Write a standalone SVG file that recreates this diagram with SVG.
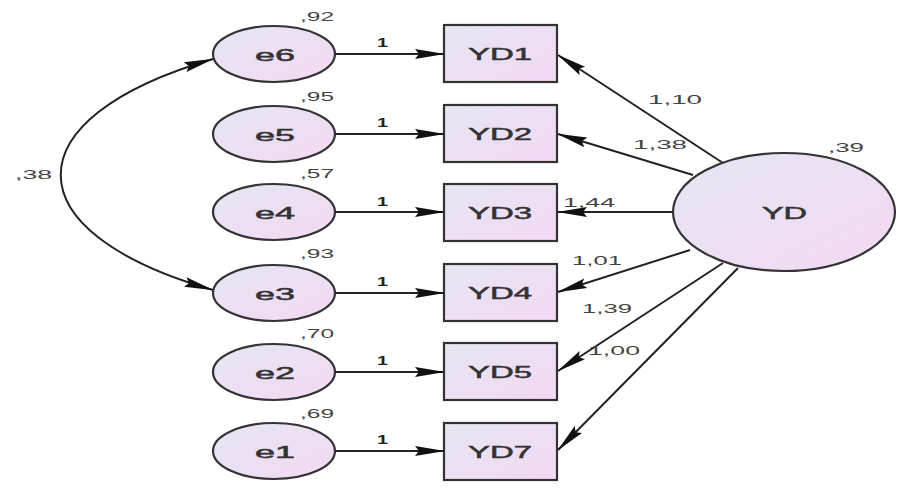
<svg xmlns="http://www.w3.org/2000/svg" width="908" height="496" viewBox="0 0 908 496">
<style>
.nd{stroke:#333;stroke-width:2.2;fill:url(#g)}
.t{font-family:"Liberation Sans",Arial,sans-serif;fill:#333}
.n{font-size:17px;stroke:#333;stroke-width:0.5}
.l{font-size:13px;fill:#444}
.o{font-size:13px;fill:#222;font-weight:bold}
.c{stroke:#222;stroke-width:2;fill:none;marker-end:url(#ah)}
</style>
<defs>
<linearGradient id="g" x1="0" y1="0" x2="1" y2="1">
<stop offset="0" stop-color="#e6e6f2"/>
<stop offset="1" stop-color="#f3d8f3"/>
</linearGradient>
<marker id="ah" markerUnits="userSpaceOnUse" markerWidth="30" markerHeight="12" refX="29" refY="5" orient="auto-start-reverse" viewBox="0 0 30 10">
<path d="M0,0 L30,5 L0,10 L4,5 z" fill="#111"/>
</marker>
</defs>
<g id="connectors">
<path class="c" d="M213,59 C10,118 10,232 213,290" marker-start="url(#ah)"/>
<line class="c" x1="335" y1="54" x2="444" y2="54"/>
<line class="c" x1="335" y1="134" x2="444" y2="134"/>
<line class="c" x1="335" y1="212" x2="444" y2="212"/>
<line class="c" x1="335" y1="293" x2="444" y2="293"/>
<line class="c" x1="335" y1="372" x2="444" y2="372"/>
<line class="c" x1="335" y1="451" x2="444" y2="451"/>
<line class="c" x1="723" y1="163" x2="558" y2="55"/>
<line class="c" x1="693" y1="175" x2="558" y2="134"/>
<line class="c" x1="673" y1="212" x2="558" y2="212"/>
<line class="c" x1="690" y1="250" x2="558" y2="292"/>
<line class="c" x1="723" y1="263" x2="558" y2="371"/>
<line class="c" x1="738" y1="268" x2="558" y2="450"/>
</g>
<g id="e6"><ellipse class="nd" cx="274" cy="54" rx="61" ry="28"/><text class="t n" x="255" y="61" textLength="40" lengthAdjust="spacingAndGlyphs">e6</text></g>
<g id="e5"><ellipse class="nd" cx="274" cy="134" rx="61" ry="28"/><text class="t n" x="255" y="141" textLength="40" lengthAdjust="spacingAndGlyphs">e5</text></g>
<g id="e4"><ellipse class="nd" cx="274" cy="212" rx="61" ry="28"/><text class="t n" x="255" y="219" textLength="40" lengthAdjust="spacingAndGlyphs">e4</text></g>
<g id="e3"><ellipse class="nd" cx="274" cy="293" rx="61" ry="28"/><text class="t n" x="255" y="300" textLength="40" lengthAdjust="spacingAndGlyphs">e3</text></g>
<g id="e2"><ellipse class="nd" cx="274" cy="372" rx="61" ry="28"/><text class="t n" x="255" y="379" textLength="40" lengthAdjust="spacingAndGlyphs">e2</text></g>
<g id="e1"><ellipse class="nd" cx="274" cy="451" rx="61" ry="28"/><text class="t n" x="255" y="458" textLength="40" lengthAdjust="spacingAndGlyphs">e1</text></g>
<g id="YD1"><rect class="nd" x="444" y="25" width="113" height="57"/><text class="t n" x="468" y="60" textLength="64" lengthAdjust="spacingAndGlyphs">YD1</text></g>
<g id="YD2"><rect class="nd" x="444" y="105" width="113" height="57"/><text class="t n" x="468" y="140" textLength="64" lengthAdjust="spacingAndGlyphs">YD2</text></g>
<g id="YD3"><rect class="nd" x="444" y="184" width="113" height="57"/><text class="t n" x="468" y="219" textLength="64" lengthAdjust="spacingAndGlyphs">YD3</text></g>
<g id="YD4"><rect class="nd" x="444" y="264" width="113" height="57"/><text class="t n" x="468" y="299" textLength="64" lengthAdjust="spacingAndGlyphs">YD4</text></g>
<g id="YD5"><rect class="nd" x="444" y="343" width="113" height="57"/><text class="t n" x="468" y="378" textLength="64" lengthAdjust="spacingAndGlyphs">YD5</text></g>
<g id="YD7"><rect class="nd" x="444" y="423" width="113" height="57"/><text class="t n" x="468" y="458" textLength="64" lengthAdjust="spacingAndGlyphs">YD7</text></g>
<g id="YD"><ellipse class="nd" cx="784" cy="212" rx="111" ry="59"/><text class="t n" x="762" y="219" textLength="45" lengthAdjust="spacingAndGlyphs">YD</text></g>
<g id="labels">
<text class="t l" x="300" y="21" textLength="34" lengthAdjust="spacingAndGlyphs">,92</text>
<text class="t l" x="300" y="101" textLength="34" lengthAdjust="spacingAndGlyphs">,95</text>
<text class="t l" x="300" y="178" textLength="34" lengthAdjust="spacingAndGlyphs">,57</text>
<text class="t l" x="300" y="258" textLength="34" lengthAdjust="spacingAndGlyphs">,93</text>
<text class="t l" x="300" y="338" textLength="34" lengthAdjust="spacingAndGlyphs">,70</text>
<text class="t l" x="300" y="418" textLength="34" lengthAdjust="spacingAndGlyphs">,69</text>
<text class="t l" x="15" y="179" textLength="37" lengthAdjust="spacingAndGlyphs">,38</text>
<text class="t o" x="377" y="47" textLength="11" lengthAdjust="spacingAndGlyphs">1</text>
<text class="t o" x="377" y="127" textLength="11" lengthAdjust="spacingAndGlyphs">1</text>
<text class="t o" x="377" y="206" textLength="11" lengthAdjust="spacingAndGlyphs">1</text>
<text class="t o" x="377" y="286" textLength="11" lengthAdjust="spacingAndGlyphs">1</text>
<text class="t o" x="377" y="365" textLength="11" lengthAdjust="spacingAndGlyphs">1</text>
<text class="t o" x="377" y="444" textLength="11" lengthAdjust="spacingAndGlyphs">1</text>
<text class="t l" x="648" y="104" textLength="54" lengthAdjust="spacingAndGlyphs">1,10</text>
<text class="t l" x="633" y="149" textLength="54" lengthAdjust="spacingAndGlyphs">1,38</text>
<text class="t l" x="563" y="207" textLength="52" lengthAdjust="spacingAndGlyphs">1,44</text>
<text class="t l" x="572" y="265" textLength="50" lengthAdjust="spacingAndGlyphs">1,01</text>
<text class="t l" x="582" y="313" textLength="50" lengthAdjust="spacingAndGlyphs">1,39</text>
<text class="t l" x="588" y="355" textLength="52" lengthAdjust="spacingAndGlyphs">1,00</text>
<text class="t l" x="828" y="152" textLength="36" lengthAdjust="spacingAndGlyphs">,39</text>
</g>
</svg>
